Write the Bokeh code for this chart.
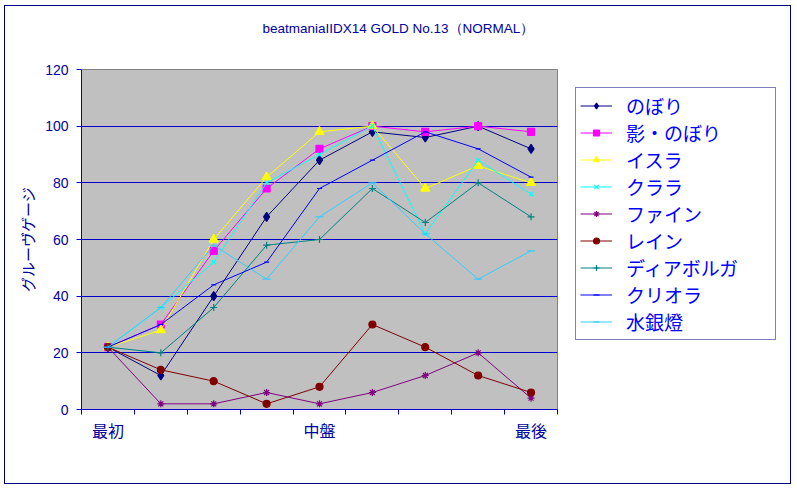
from bokeh.plotting import figure
from bokeh.models import FixedTicker, Legend, LegendItem, Title, Range1d
from bokeh.embed import file_html
from bokeh.resources import INLINE

title_text = "beatmaniaIIDX14 GOLD No.13（NORMAL）"
y_title = "グルーヴゲージ"
x_labels = ["最初", "", "", "", "中盤", "", "", "", "最後"]

series_names = ["のぼり", "影・のぼり", "イスラ", "クララ", "ファイン", "レイン", "ディアボルガ", "クリオラ", "水銀燈"]
nobori = [22, 12, 40, 68, 88, 98, 96, 100, 92]
kage_nobori = [22, 30, 56, 78, 92, 100, 98, 100, 98]
isura = [22, 28, 60, 82, 98, 100, 78, 86, 80]
kurara = [22, 36, 52, 80, 90, 100, 62, 88, 76]
fine = [22, 2, 2, 6, 2, 6, 12, 20, 4]
rain = [22, 14, 10, 2, 8, 30, 22, 12, 6]
diaboruga = [22, 20, 36, 58, 60, 78, 66, 80, 68]
kuriora = [22, 30, 44, 52, 78, 88, 98, 92, 82]
suiginto = [22, 36, 58, 46, 68, 80, 62, 46, 56]
series_values = [nobori, kage_nobori, isura, kurara, fine, rain, diaboruga, kuriora, suiginto]

colors = ["#000080", "#FF00FF", "#FFFF00", "#00FFFF", "#800080", "#800000", "#008080", "#0000FF", "#33CCFF"]
markers = ["diamond", "square", "triangle", "x", "asterisk", "circle", "cross", "dash", "dash"]
msizes = [9, 7, 9, 6, 7, 7, 7, 5, 8]

n = len(x_labels)
xs = list(range(1, n + 1))

# canvas sits at page offset (5, 6) inside a 1px border
W, H = 785, 477
FL, FR, FT, FB = 76, 552, 63, 403
p = figure(width=W, height=H, frame_width=FR - FL, frame_height=FB - FT,
           output_backend="svg", toolbar_location=None, title=None,
           x_range=Range1d(0.5, n + 0.5), y_range=Range1d(0, 120),
           min_border_left=FL, min_border_right=W - FR, min_border_top=FT, min_border_bottom=H - FB)
p.margin = (5, 0, 0, 4)
p.styles = {"border": "1px solid #000080", "box-sizing": "content-box",
            "max-width": f"{W}px", "max-height": f"{H}px", "overflow": "hidden"}
p.background_fill_color = "#C0C0C0"
p.border_fill_color = "white"
p.outline_line_color = "#808080"
p.outline_line_width = 1

text_blue = "#0000A0"
axis_blue = "#0000CC"

# x axis
xt = FixedTicker(ticks=[1, 5, 9], minor_ticks=[i + 0.5 for i in range(0, n + 1)])
p.xaxis.ticker = xt
p.xaxis.major_label_overrides = {i + 1: lab for i, lab in enumerate(x_labels) if lab}
p.xaxis.major_tick_out = 0
p.xaxis.major_tick_in = 0
p.xaxis.minor_tick_out = 5
p.xaxis.minor_tick_in = 0
p.xaxis.minor_tick_line_color = axis_blue
p.xaxis.axis_line_color = axis_blue
p.xaxis.major_label_text_font = "Noto Sans CJK JP"
p.xaxis.major_label_text_font_size = "16px"
p.xaxis.major_label_text_color = text_blue
p.xaxis.major_label_standoff = 3
p.xgrid.visible = False

# y axis
p.yaxis.ticker = FixedTicker(ticks=[0, 20, 40, 60, 80, 100, 120])
p.yaxis.major_tick_out = 5
p.yaxis.major_tick_in = 0
p.yaxis.minor_tick_line_color = None
p.yaxis.major_tick_line_color = axis_blue
p.yaxis.axis_line_color = axis_blue
p.yaxis.major_label_text_font = "Liberation Sans"
p.yaxis.major_label_text_font_size = "14px"
p.yaxis.major_label_text_color = text_blue
p.yaxis.major_label_standoff = 8
p.yaxis.axis_label = y_title
p.yaxis.axis_label_text_font = "Noto Sans CJK JP"
p.yaxis.axis_label_text_font_size = "15px"
p.yaxis.axis_label_text_font_style = "normal"
p.yaxis.axis_label_text_color = text_blue
p.yaxis.axis_label_standoff = 4
p.ygrid.ticker = FixedTicker(ticks=[20, 40, 60, 80, 100])
p.ygrid.grid_line_color = axis_blue
p.ygrid.grid_line_width = 1

items = []
for name, vals, c, m, s in zip(series_names, series_values, colors, markers, msizes):
    r1 = p.line(xs, vals, line_color=c, line_width=1)
    r2 = p.scatter(xs, vals, marker=m, size=s, line_color=c, fill_color=c, line_width=1.2)
    items.append(LegendItem(label=name, renderers=[r1, r2]))

legend = Legend(items=items, location="top_left")
legend.label_text_font = "Liberation Sans, 'Noto Sans CJK JP'"
legend.label_text_font_size = "19px"
legend.label_text_color = "#0000FF"
legend.label_height = 27
legend.label_width = 145
legend.glyph_height = 15
legend.glyph_width = 32
legend.spacing = 0
legend.padding = 4
legend.margin = 18
legend.label_standoff = 14
legend.border_line_color = "#000080"
legend.border_line_width = 1
legend.background_fill_color = "white"
legend.background_fill_alpha = 1
p.add_layout(legend, "right")

# spacer (closest to the frame), then the chart title above it
p.add_layout(Title(text=" ", text_font_size="10px", standoff=20), "above")
p.add_layout(Title(text=title_text, align="left", offset=181, standoff=0,
                   text_font="Liberation Sans", text_font_size="13.5px",
                   text_font_style="normal", text_color=text_blue, vertical_align="middle"), "above")

open("out.html", "w").write(file_html(p, INLINE))
